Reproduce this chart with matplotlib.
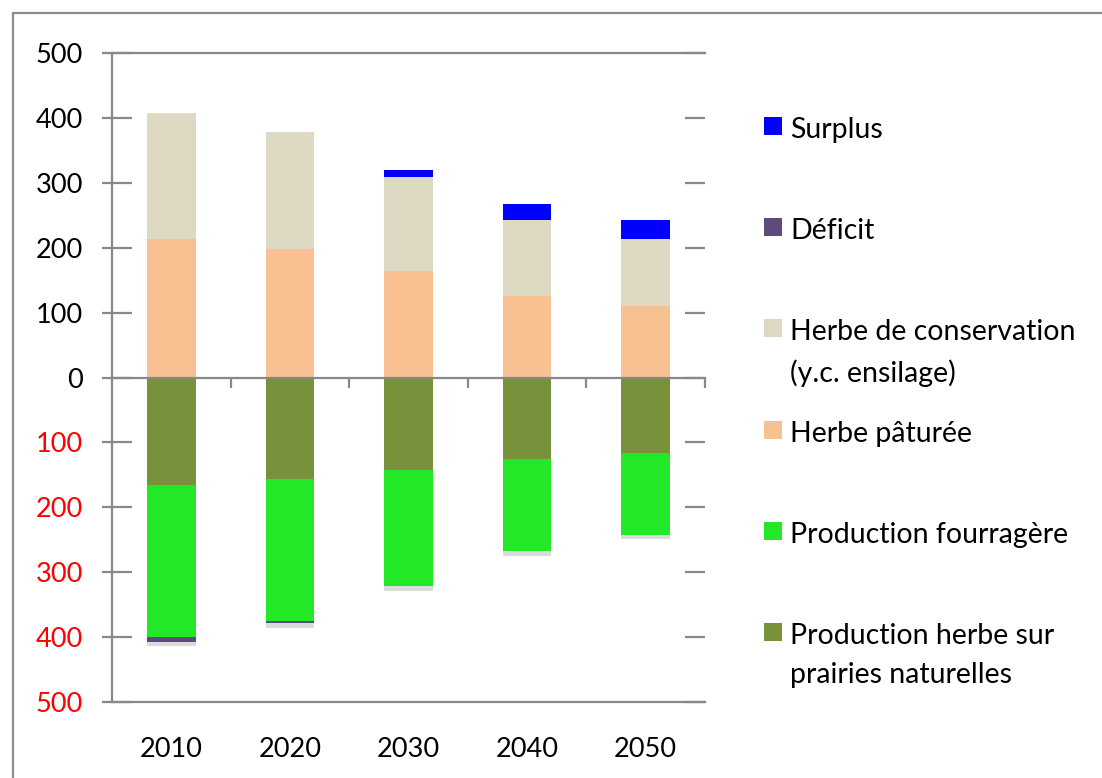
import matplotlib
matplotlib.use("Agg")
import matplotlib.pyplot as plt
import matplotlib.patheffects as pe
from matplotlib.patches import Rectangle
import numpy as np

# data (arbitrary units)
years = ["2010", "2020", "2030", "2040", "2050"]
paturee = [214, 198, 164, 125, 110]
conservation = [193, 180, 145, 117, 103]
surplus = [0, 0, 10, 25, 29]
naturelles = [165, 156, 142, 126, 117]
fourragere = [235, 219, 180, 142, 126]
deficit = [8, 4, 0, 0, 0]

yticks = [-500, -400, -300, -200, -100, 0, 100, 200, 300, 400, 500]

legend_labels = ["Surplus", "Déficit", "Herbe de conservation\n(y.c. ensilage)",
                 "Herbe pâturée", "Production fourragère",
                 "Production herbe sur\nprairies naturelles"]

c_surplus = "#0000FF"
c_deficit = "#5F4A7E"
c_conserv = "#DDD9C3"
c_paturee = "#F9C092"
c_fourrag = "#23E828"
c_natur = "#78923C"
legend_colors = [c_surplus, c_deficit, c_conserv, c_paturee, c_fourrag, c_natur]

grey = "#888888"
W, H = 1102, 778

plt.rcParams['font.family'] = ['Lato', 'DejaVu Sans']

fig = plt.figure(figsize=(W / 100, H / 100), dpi=100)

# outer frame (only top and left edges are visible in the picture)
fig.patches.append(Rectangle((13 / W, -0.5), 2, 1.5 - 13 / H, transform=fig.transFigure,
                             fill=False, edgecolor="#8c8c8c", linewidth=1.6))

ax = fig.add_axes([112 / W, 76 / H, (705 - 112) / W, (702 - 53) / H])

x = np.arange(len(years))
w = 0.41
shadow = [pe.SimplePatchShadow(offset=(0, -3), shadow_rgbFace="#000000", alpha=0.14), pe.Normal()]

pat = np.array(paturee)
con = np.array(conservation)
sur = np.array(surplus)
nat = np.array(naturelles)
fou = np.array(fourragere)
dfc = np.array(deficit)

# positive side, drawn top segment first so each shadow gets covered
for vals, bottom, col in [(sur, pat + con, c_surplus), (con, pat, c_conserv), (pat, 0, c_paturee)]:
    bars = ax.bar(x, vals, w, bottom=bottom, color=col, zorder=2)
    for b in bars:
        b.set_path_effects(shadow)

# negative side
for vals, bottom, col in [(-nat, 0, c_natur), (-fou, -nat, c_fourrag), (-dfc, -nat - fou, c_deficit)]:
    bars = ax.bar(x, vals, w, bottom=bottom, color=col, zorder=2)
    for b in bars:
        b.set_path_effects(shadow)

ax.set_xlim(-0.5, len(years) - 0.5)
ax.set_ylim(-500, 500)

# zero line with category separators
ax.axhline(0, color=grey, linewidth=1.6, zorder=3, clip_on=False)
ax.plot(np.arange(len(years)) + 0.5, np.zeros(len(years)), linestyle="none",
        marker=3, markersize=7, markeredgewidth=1.6, color=grey, zorder=3, clip_on=False)

for side in ["left", "top", "bottom"]:
    ax.spines[side].set_color(grey)
    ax.spines[side].set_linewidth(1.6)
ax.spines["right"].set_visible(False)

ax.set_xticks(x)
ax.set_xticklabels(years)
ax.tick_params(axis="x", length=0, pad=25, labelsize=19.5)

ax.set_yticks(yticks)
ax.set_yticklabels([str(abs(v)) for v in yticks])
ax.tick_params(axis="y", which="major", direction="in", length=14.4, width=1.6,
               color=grey, right=True, pad=21, labelsize=19.5)
ax.yaxis.remove_overlapping_locs = False
ax.set_yticks(yticks, minor=True)
ax.tick_params(axis="y", which="minor", direction="out", length=7.2, width=1.6,
               color=grey, left=True, right=False)
for v, lab in zip(yticks, ax.get_yticklabels()):
    lab.set_color("red" if v < 0 else "black")

# legend drawn by hand so the swatch sits on the first line
y0 = 126
step = 101.2
for i, (lab, col) in enumerate(zip(legend_labels, legend_colors)):
    yc = y0 + step * i
    fig.patches.append(Rectangle((764 / W, 1 - (yc + 9) / H), 18 / W, 18 / H,
                                 transform=fig.transFigure, facecolor=col, edgecolor="none"))
    fig.text(790 / W, 1 - (yc - 9) / H, lab, fontsize=20.5, va="top", ha="left",
             linespacing=1.62)

fig.savefig("out.png", dpi=100)
